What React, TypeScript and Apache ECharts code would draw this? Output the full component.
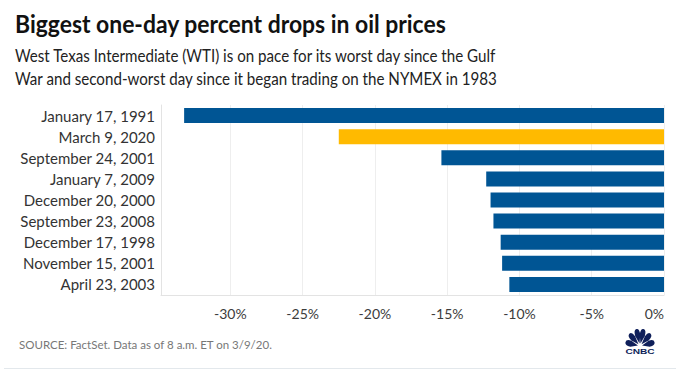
import React, { useEffect, useRef } from "react";
import * as echarts from "echarts";

const categories = [
  "January 17, 1991",
  "March 9, 2020",
  "September 24, 2001",
  "January 7, 2009",
  "December 20, 2000",
  "September 23, 2008",
  "December 17, 1998",
  "November 15, 2001",
  "April 23, 2003",
];
const drops = [-33.2, -22.5, -15.4, -12.3, -12.0, -11.8, -11.3, -11.2, -10.7];
const tickValues = [-30, -25, -20, -15, -10, -5, 0];
const highlighted = "March 9, 2020";

const titleText = "Biggest one-day percent drops in oil prices";
const subtitleLines = [
  "West Texas Intermediate (WTI) is on pace for its worst day since the Gulf",
  "War and second-worst day since it began trading on the NYMEX in 1983",
];
const sourceText = "SOURCE: FactSet. Data as of 8 a.m. ET on 3/9/20.";

const BLUE = "#005594";
const YELLOW = "#FFBA00";
const NAVY = "#0f1f5a";
const FONT = "Lato, 'Open Sans', sans-serif";

function peacockPath(): string {
  const cx = 16;
  const cy = 20;
  const angles = [168, 136, 104, 76, 44, 12];
  let d = "";
  for (const a of angles) {
    const r = (a * Math.PI) / 180;
    const dx = Math.cos(r);
    const dy = -Math.sin(r);
    const px = -dy;
    const py = dx;
    const p = (dist: number, off: number) =>
      `${(cx + dx * dist + px * off).toFixed(2)} ${(cy + dy * dist + py * off).toFixed(2)}`;
    d += `M ${p(2.5, 0)} L ${p(11, 3.1)} Q ${p(17.5, 3.6)} ${p(17.5, 0)} Q ${p(17.5, -3.6)} ${p(11, -3.1)} Z `;
  }
  return d;
}

let registered = false;
function ensureShape() {
  if (registered) return;
  echarts.graphic.registerShape(
    "cnbcPeacock",
    echarts.graphic.extendPath(peacockPath(), {}) as any
  );
  registered = true;
}

export default function App() {
  const ref = useRef<HTMLDivElement>(null);
  useEffect(() => {
    if (!ref.current) return;
    ensureShape();
    const chart = echarts.init(ref.current, undefined, { renderer: "svg" });
    chart.setOption({
      animation: false,
      backgroundColor: "#ffffff",
      grid: { left: 161, right: 16, top: 105, bottom: 88, containLabel: false },
      xAxis: {
        type: "value",
        min: -34.8,
        max: 0,
        axisLine: { show: true, lineStyle: { color: "#e3e3e3", width: 1 } },
        axisTick: { show: false, customValues: tickValues },
        splitLine: { show: true, lineStyle: { color: "#eeeeee", width: 1 } },
        axisLabel: {
          customValues: tickValues,
          formatter: (v: number) => `${v}%`,
          color: "#3c3c3c",
          fontSize: 14,
          fontFamily: FONT,
          margin: 11,
          alignMaxLabel: "right",
        },
      },
      yAxis: {
        type: "category",
        data: categories,
        inverse: true,
        axisLine: { show: true, onZero: false, lineStyle: { color: "#e3e3e3", width: 1 } },
        axisTick: { show: false },
        splitLine: { show: false },
        axisLabel: {
          color: "#333333",
          fontSize: 15,
          fontFamily: FONT,
          margin: 6,
        },
      },
      series: [
        {
          type: "bar",
          barWidth: 15,
          data: drops.map((v, i) => ({
            value: v,
            itemStyle: { color: categories[i] === highlighted ? YELLOW : BLUE },
          })),
        },
      ],
      graphic: [
        {
          type: "text",
          x: 15,
          y: 11,
          scaleX: 0.917,
          style: {
            text: titleText,
            fontSize: 25,
            fontWeight: "bold",
            fontFamily: FONT,
            fill: "#111111",
            verticalAlign: "top",
          },
        },
        {
          type: "text",
          x: 15,
          y: 44,
          scaleX: 0.918,
          style: {
            text: subtitleLines.join("\n"),
            fontSize: 16.5,
            lineHeight: 23,
            fontFamily: FONT,
            fill: "#222222",
            verticalAlign: "top",
          },
        },
        {
          type: "text",
          x: 19,
          y: 338,
          style: {
            text: sourceText,
            fontSize: 11.5,
            fontFamily: FONT,
            fill: "#777777",
            verticalAlign: "top",
          },
        },
        {
          type: "line",
          shape: { x1: 4, y1: 368.5, x2: 676, y2: 368.5 },
          style: { stroke: "#e3e8ec", lineWidth: 1 },
        },
        {
          type: "cnbcPeacock",
          x: 626.4,
          y: 326,
          scaleX: 0.85,
          scaleY: 1.0,
          style: { fill: NAVY },
        } as any,
        {
          type: "text",
          x: 640,
          y: 351,
          scaleX: 1.35,
          style: {
            text: "CNBC",
            fontSize: 7.5,
            fontWeight: 900,
            fontFamily: "'Liberation Sans', Arial, sans-serif",
            fill: NAVY,
            align: "center",
            verticalAlign: "middle",
          },
        },
      ],
    });
    return () => chart.dispose();
  }, []);
  return (
    <div
      ref={ref}
      style={{ position: "fixed", left: 0, top: 0, width: 680, height: 383 }}
    />
  );
}
